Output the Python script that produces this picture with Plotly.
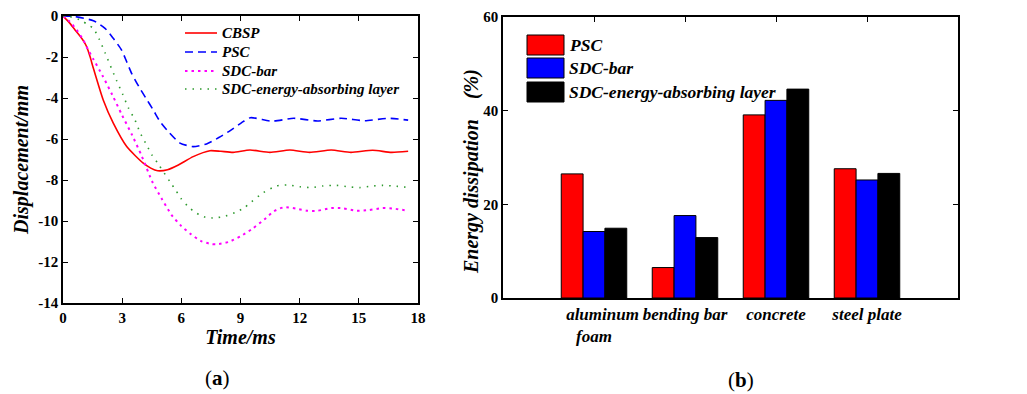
import plotly.graph_objects as go

# ---- (a) mid-span displacement histories ----
cbsp_t = [0, 0.3, 0.61, 0.86, 1.06, 1.2, 1.37, 1.54, 2.04, 2.55, 3.23, 4.07, 4.45, 4.8, 5.3, 5.85,
          6.6, 7.45, 8.0, 8.63, 9.48, 10.49, 11.5, 12.5, 13.6, 14.6, 15.7, 16.65, 17.5]
cbsp_d = [0, -0.3, -0.68, -0.98, -1.25, -1.5, -1.98, -2.55, -4.1, -5.23, -6.37, -7.18, -7.42, -7.55,
          -7.5, -7.27, -6.86, -6.57, -6.6, -6.65, -6.54, -6.65, -6.54, -6.65, -6.54, -6.65, -6.55,
          -6.65, -6.6]

psc_t = [0, 0.61, 1.54, 2.13, 2.55, 2.97, 3.23, 3.48, 3.85, 4.2, 4.58, 4.92, 5.34, 5.93, 6.6, 7.28,
         7.9, 8.46, 9.06, 9.5, 10.6, 11.7, 12.9, 14.1, 15.3, 16.5, 17.5]
psc_d = [0, -0.03, -0.23, -0.6, -1.09, -1.66, -2.23, -2.8, -3.45, -4.0, -4.59, -5.15, -5.64, -6.2,
         -6.37, -6.24, -5.93, -5.6, -5.2, -4.96, -5.13, -4.99, -5.12, -4.99, -5.11, -4.99, -5.08]

bar_t = [0, 0.35, 0.69, 1.03, 1.28, 1.54, 2.0, 2.5, 3.0, 3.5, 4.0, 4.54, 5.0, 5.5, 6.0, 6.5, 7.0,
         7.5, 7.8, 8.4, 9.0, 9.6, 10.2, 10.7, 11.2, 11.8, 12.4, 12.9, 13.6, 14.2, 14.9, 15.5, 16.2,
         16.8, 17.5]
bar_d = [0, -0.28, -0.68, -1.17, -1.66, -2.11, -2.9, -3.85, -4.85, -5.8, -6.85, -8.11, -8.9, -9.7,
         -10.25, -10.65, -10.98, -11.12, -11.14, -11.02, -10.75, -10.38, -9.93, -9.52, -9.33, -9.39,
         -9.5, -9.5, -9.37, -9.38, -9.5, -9.47, -9.37, -9.4, -9.5]

layer_t = [0, 0.35, 0.95, 1.28, 1.54, 1.84, 2.13, 2.72, 3.02, 3.31, 3.65, 3.9, 4.24, 4.51, 4.83,
           5.42, 5.73, 6.01, 6.32, 6.6, 6.94, 7.23, 7.6, 8.12, 8.72, 9.2, 9.56, 10.15, 10.82, 11.42,
           12.01, 12.6, 13.19, 13.87, 14.46, 15.05, 15.64, 16.23, 16.83, 17.5]
layer_d = [0, -0.03, -0.23, -0.44, -0.6, -1.14, -1.79, -3.16, -3.8, -4.47, -5.07, -5.67, -6.29,
           -6.78, -7.22, -8.08, -8.52, -8.94, -9.27, -9.51, -9.71, -9.82, -9.85, -9.79, -9.59, -9.35,
           -9.06, -8.62, -8.29, -8.24, -8.33, -8.37, -8.29, -8.26, -8.33, -8.37, -8.3, -8.26, -8.3,
           -8.36]

time_ticks = [0, 3, 6, 9, 12, 15, 18]
disp_ticks = [0, -2, -4, -6, -8, -10, -12, -14]

# ---- (b) energy dissipation shares ----
components = ["\u00a0\u00a0\u00a0\u00a0aluminum<br>foam", "bending bar", "concrete", "steel plate"]
component_pos = [1, 2, 3, 4]
psc_energy = [26.5, 6.5, 39.1, 27.6]
sdc_bar_energy = [14.2, 17.6, 42.2, 25.2]
sdc_layer_energy = [14.9, 12.9, 44.6, 26.6]
energy_ticks = [0, 20, 40, 60]

SERIF = "Liberation Serif"
W, H = 1027, 394


def bi(s):
    """bold italic rich text"""
    return "<b><i>" + s + "</i></b>"


def b(s):
    return "<b>" + s + "</b>"


fig = go.Figure()
shapes = []
annotations = []

line_series = [
    ("CBSP", cbsp_t, cbsp_d, "#ff0000", "solid", 1.6),
    ("PSC", psc_t, psc_d, "#0000ff", "8px,5px", 1.6),
    ("SDC-bar", bar_t, bar_d, "#ff00ff", "2.5px,4px", 2),
    ("SDC-energy-absorbing layer", layer_t, layer_d, "#2e9a2e", "1.5px,6px", 1.6),
]
for name, t, d, color, dash, w in line_series:
    fig.add_trace(go.Scatter(
        x=t, y=d, name=name, mode="lines", showlegend=False,
        line=dict(color=color, dash=dash, width=w, shape="spline", smoothing=0.6),
        xaxis="x", yaxis="y",
    ))

# key of panel (a): sample line + label per series
key_rows_a = [33, 52, 71, 89]
for (name, _, _, color, dash, w), row in zip(line_series, key_rows_a):
    yy = 1 - row / H
    shapes.append(dict(type="line", xref="paper", yref="paper",
                       x0=185 / W, x1=217 / W, y0=yy, y1=yy,
                       line=dict(color=color, dash=dash, width=w)))
    annotations.append(dict(xref="paper", yref="paper", x=220 / W, y=yy,
                            xanchor="left", yanchor="middle", showarrow=False, text=bi(name),
                            font=dict(family=SERIF, size=15, color="black")))

bar_series = [
    ("PSC", psc_energy, "#ff0000"),
    ("SDC-bar", sdc_bar_energy, "#0000ff"),
    ("SDC-energy-absorbing layer", sdc_layer_energy, "#000000"),
]
for name, vals, color in bar_series:
    fig.add_trace(go.Bar(
        x=component_pos, y=vals, name=name, showlegend=False,
        marker=dict(color=color, line=dict(color="black", width=1)),
        xaxis="x2", yaxis="y2",
    ))

# key of panel (b): colour patch + label per series
patch_rows = [(35, 55), (58, 78), (82, 102)]
for (name, _, color), (top, bot) in zip(bar_series, patch_rows):
    shapes.append(dict(type="rect", xref="paper", yref="paper",
                       x0=527 / W, x1=564 / W, y0=1 - bot / H, y1=1 - top / H,
                       fillcolor=color, line=dict(color="black", width=1)))
    annotations.append(dict(xref="paper", yref="paper", x=567 / W, y=1 - (top + bot) / 2 / H,
                            xanchor="left", yanchor="middle", showarrow=False, text=bi(name),
                            font=dict(family=SERIF, size=17.5, color="black")))

# panel captions
annotations.append(dict(xref="paper", yref="paper", x=217 / W, y=1 - 378 / H,
                        xanchor="center", yanchor="middle", showarrow=False, text="(<b>a</b>)",
                        font=dict(family=SERIF, size=21, color="black")))
annotations.append(dict(xref="paper", yref="paper", x=741 / W, y=1 - 380 / H,
                        xanchor="center", yanchor="middle", showarrow=False, text="(<b>b</b>)",
                        font=dict(family=SERIF, size=21, color="black")))

# y title of panel (b)
annotations.append(dict(xref="paper", yref="paper", x=471 / W, y=1 - 172 / H,
                        xanchor="center", yanchor="middle", showarrow=False, textangle=-90,
                        text=bi("Energy dissipation\u00a0\u00a0\u00a0\u00a0(%)"),
                        font=dict(family=SERIF, size=20, color="black")))

tickfont = dict(family=SERIF, size=15, color="black")
titlefont = dict(family=SERIF, size=20, color="black")
axis_common = dict(showline=True, linecolor="black", linewidth=1.5, ticks="inside",
                   ticklen=5, tickwidth=1.2, tickcolor="black", showgrid=False,
                   zeroline=False, tickfont=tickfont, automargin=False)

fig.update_layout(
    width=W, height=H,
    margin=dict(l=0, r=0, t=0, b=0, autoexpand=False),
    paper_bgcolor="white", plot_bgcolor="white",
    barmode="group", bargap=0.28, bargroupgap=0,
    showlegend=False,
    xaxis=dict(domain=[63 / W, 418 / W], range=[0, 18], tickvals=time_ticks,
               ticktext=[b(str(v)) for v in time_ticks],
               mirror="ticks", anchor="y",
               title=dict(text=bi("Time/ms"), font=titlefont, standoff=5),
               **axis_common),
    yaxis=dict(domain=[1 - 303 / H, 1 - 16 / H], range=[-14, 0], tickvals=disp_ticks,
               ticktext=[b(str(v)) for v in disp_ticks],
               mirror="ticks", anchor="x",
               title=dict(text=bi("Displacement/mm"), font=titlefont, standoff=4),
               **axis_common),
    xaxis2=dict(domain=[503 / W, 958 / W], range=[0, 5], tickvals=component_pos,
                ticktext=[bi(c) for c in components], mirror=True, anchor="y2",
                **{**axis_common, "ticks": "",
                   "tickfont": dict(family=SERIF, size=17, color="black")}),
    xaxis3=dict(domain=[503 / W, 958 / W], range=[0, 5], tickvals=component_pos,
                overlaying="x2", side="top", anchor="y2", showticklabels=False,
                **{k: v for k, v in axis_common.items() if k != "tickfont"}),
    yaxis2=dict(domain=[1 - 298 / H, 1 - 17 / H], range=[0, 60], tickvals=energy_ticks,
                ticktext=[b(str(v)) for v in energy_ticks],
                mirror="ticks", anchor="x2",
                **axis_common),
    shapes=shapes,
    annotations=annotations,
)

# invisible trace so the top axis is drawn
fig.add_trace(go.Scatter(x=[None], y=[None], xaxis="x3", yaxis="y2", showlegend=False,
                         hoverinfo="skip"))

fig.write_html("out.html")
